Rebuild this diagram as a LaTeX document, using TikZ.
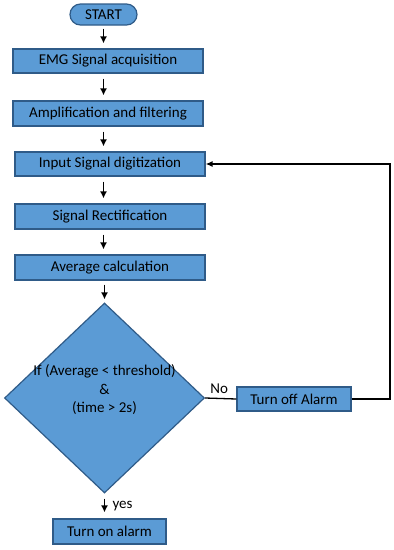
\documentclass[tikz,border=0pt]{standalone}
\usepackage{fontspec}
\setmainfont{Carlito}
\usetikzlibrary{shapes.geometric,shapes.misc,arrows.meta}
\definecolor{boxfill}{HTML}{5B9BD5}
\definecolor{boxline}{HTML}{2F5B88}
\begin{document}
\begin{tikzpicture}[x=1pt,y=-1pt,
  every node/.style={font=\fontsize{15}{19}\selectfont},
  proc/.style={draw=boxline,line width=1.2pt,fill=boxfill,minimum height=24pt,inner sep=0pt,anchor=center},
  arr/.style={line width=1.6pt,-{Latex[length=7pt,width=7pt]},shorten <=5pt,shorten >=5pt},
  plain/.style={line width=1.3pt}
]
\useasboundingbox (0,0) rectangle (394,550);
\node[proc,rounded rectangle,minimum width=67pt,minimum height=21pt] (start) at (103.5,14.5) {START};
\node[proc,minimum width=190pt] (emg) at (108,61) {EMG Signal acquisition};
\node[proc,minimum width=190pt,minimum height=25pt] (amp) at (108,113.5) {Amplification and filtering};
\node[proc,minimum width=190pt] (inp) at (110,164) {Input Signal digitization};
\node[proc,minimum width=190pt,minimum height=25pt] (rect) at (110,216.5) {Signal Rectification};
\node[proc,minimum width=190pt,minimum height=25pt] (avg) at (110,267.5) {Average calculation};
\node[proc,diamond,minimum width=200pt,minimum height=190pt] (dia) at (104.5,398) {};
\node[align=center,font=\fontsize{15}{18.5}\selectfont] (dtext) at ([yshift=8pt]dia.center) {If (Average < threshold)\\\&\\(time > 2s)};
\node[proc,minimum width=114pt] (off) at (294,399) {Turn off Alarm};
\node[proc,minimum width=113pt,minimum height=25pt] (on) at (109.5,531.5) {Turn on alarm};
\coordinate (loop) at (390,164);
\draw[arr,shorten <=3pt] (start.south) -- (emg.north -| start.south);
\draw[arr] (emg.south -| start.south) -- (amp.north -| start.south);
\draw[arr] (amp.south -| start.south) -- (inp.north -| start.south);
\draw[arr] (inp.south -| start.south) -- (rect.north -| start.south);
\draw[arr] (rect.south -| start.south) -- (avg.north -| start.south);
\draw[arr,shorten <=4pt,shorten >=3pt] (avg.south -| dia.north) -- (dia.north);
\draw[arr,shorten <=5pt,shorten >=6pt] (dia.south) -- (on.north -| dia.south) node[pos=0.5,right=4pt] (yes) {yes};
\draw[plain] (dia.east) -- (off.west) node[pos=0.45,above=1pt] (no) {No};
\draw[plain,-{Latex[length=7pt,width=6pt]}] (off.east) -| (loop) -- (inp.east);
\end{tikzpicture}
\end{document}
